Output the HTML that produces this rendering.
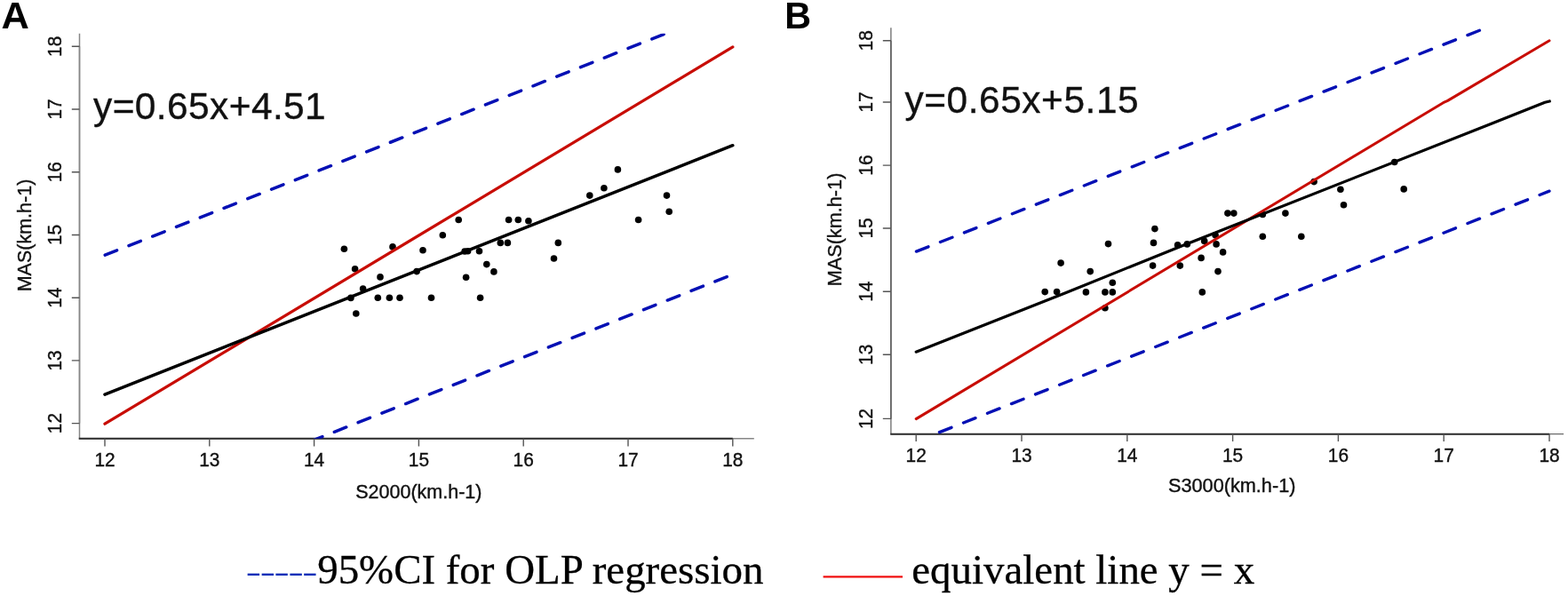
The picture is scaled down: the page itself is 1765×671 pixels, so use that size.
<!DOCTYPE html>
<html lang="en">
<head>
<meta charset="utf-8">
<title>OLP regression: MAS vs S2000 / S3000</title>
<style>
html,body{margin:0;padding:0;background:#fff;}
body{width:1765px;height:671px;overflow:hidden;}
svg{display:block;}
text{white-space:pre;}
</style>
</head>
<body>
<svg width="1765" height="671" viewBox="0 0 1765 671">
<rect width="1765" height="671" fill="#fff"/>
<clipPath id="clipA"><rect x="89.5" y="37.7" width="759.3" height="456.0"/></clipPath>
<path d="M89.5 37.7V493.7H848.8" fill="none" stroke="#868686" stroke-width="1.5"/>
<path d="M88.75 493.7H824.8" fill="none" stroke="#2e2e2e" stroke-width="1.9"/>
<path d="M89.5 476.6V52.3" fill="none" stroke="#868686" stroke-width="1.5"/>
<path d="M118.0 493.7V502.4M235.8 493.7V502.4M353.6 493.7V502.4M471.4 493.7V502.4M589.2 493.7V502.4M707.0 493.7V502.4M824.8 493.7V502.4" fill="none" stroke="#555" stroke-width="1.4"/>
<path d="M89.5 476.6H80.8M89.5 405.9H80.8M89.5 335.2H80.8M89.5 264.5H80.8M89.5 193.7H80.8M89.5 123.0H80.8M89.5 52.3H80.8" fill="none" stroke="#555" stroke-width="1.4"/>
<g font-family='"Liberation Sans", Arial, Helvetica, sans-serif' font-size="22.2" fill="#111" stroke="#111" stroke-width="0.4" text-anchor="middle">
<text transform="translate(118.0 524.8) scale(0.94 1)">12</text>
<text transform="translate(235.8 524.8) scale(0.94 1)">13</text>
<text transform="translate(353.6 524.8) scale(0.94 1)">14</text>
<text transform="translate(471.4 524.8) scale(0.94 1)">15</text>
<text transform="translate(589.2 524.8) scale(0.94 1)">16</text>
<text transform="translate(707.0 524.8) scale(0.94 1)">17</text>
<text transform="translate(824.8 524.8) scale(0.94 1)">18</text>
<text transform="translate(69.0 476.6) rotate(-90) scale(0.94 1)">12</text>
<text transform="translate(69.0 405.9) rotate(-90) scale(0.94 1)">13</text>
<text transform="translate(69.0 335.2) rotate(-90) scale(0.94 1)">14</text>
<text transform="translate(69.0 264.5) rotate(-90) scale(0.94 1)">15</text>
<text transform="translate(69.0 193.7) rotate(-90) scale(0.94 1)">16</text>
<text transform="translate(69.0 123.0) rotate(-90) scale(0.94 1)">17</text>
<text transform="translate(69.0 52.3) rotate(-90) scale(0.94 1)">18</text>
</g>
<g font-family='"Liberation Sans", Arial, Helvetica, sans-serif' font-size="21.5" fill="#111" stroke="#111" stroke-width="0.4" text-anchor="middle">
<text transform="translate(471.3 560.9) scale(1.0 1)">S2000(km.h-1)</text>
<text transform="translate(35.1 265.0) rotate(-90) scale(1.0 1)">MAS(km.h-1)</text>
</g>
<g fill="#000">
<circle cx="387.4" cy="280.3" r="3.8"/>
<circle cx="399.6" cy="302.7" r="3.8"/>
<circle cx="394.9" cy="335.4" r="3.8"/>
<circle cx="400.8" cy="353.0" r="3.8"/>
<circle cx="408.6" cy="325.0" r="3.8"/>
<circle cx="428.0" cy="311.9" r="3.8"/>
<circle cx="425.3" cy="335.2" r="3.8"/>
<circle cx="438.4" cy="335.2" r="3.8"/>
<circle cx="450.0" cy="335.2" r="3.8"/>
<circle cx="442.0" cy="277.9" r="3.8"/>
<circle cx="469.1" cy="305.6" r="3.8"/>
<circle cx="476.0" cy="281.8" r="3.8"/>
<circle cx="485.5" cy="335.2" r="3.8"/>
<circle cx="498.3" cy="264.8" r="3.8"/>
<circle cx="516.2" cy="247.5" r="3.8"/>
<circle cx="523.1" cy="283.0" r="3.8"/>
<circle cx="526.6" cy="282.7" r="3.8"/>
<circle cx="524.6" cy="312.2" r="3.8"/>
<circle cx="539.5" cy="282.7" r="3.8"/>
<circle cx="540.6" cy="335.2" r="3.8"/>
<circle cx="547.8" cy="297.6" r="3.8"/>
<circle cx="555.9" cy="305.9" r="3.8"/>
<circle cx="563.3" cy="273.4" r="3.8"/>
<circle cx="571.4" cy="273.4" r="3.8"/>
<circle cx="572.6" cy="247.5" r="3.8"/>
<circle cx="583.3" cy="247.5" r="3.8"/>
<circle cx="594.9" cy="248.7" r="3.8"/>
<circle cx="628.3" cy="273.4" r="3.8"/>
<circle cx="623.5" cy="291.0" r="3.8"/>
<circle cx="663.8" cy="220.1" r="3.8"/>
<circle cx="679.9" cy="211.7" r="3.8"/>
<circle cx="695.4" cy="190.9" r="3.8"/>
<circle cx="718.6" cy="247.5" r="3.8"/>
<circle cx="750.5" cy="220.1" r="3.8"/>
<circle cx="753.2" cy="238.3" r="3.8"/>
</g>
<g clip-path="url(#clipA)" fill="none" stroke-linecap="round">
<path d="M118.00 287.30L824.80 7.90" stroke="#0510b4" stroke-width="3.5" stroke-dasharray="14.39 14.39" stroke-dashoffset="28.54"/>
<path d="M118.00 588.40L824.80 309.00" stroke="#0510b4" stroke-width="3.5" stroke-dasharray="14.40 14.40" stroke-dashoffset="10.22"/>
</g>
<path d="M118.0 477.2L824.8 52.9" stroke="#c80d06" stroke-width="3.3" stroke-linecap="round" stroke-linejoin="round" fill="none"/>
<path d="M118.0 444.1L824.8 163.7" stroke="#000" stroke-width="3.5" stroke-linecap="round" stroke-linejoin="round" fill="none"/>
<text transform="translate(105.0 134.2) scale(1.0 1)" font-family='"Liberation Sans", Arial, Helvetica, sans-serif' font-size="42.5" letter-spacing="0.38" fill="#111" stroke="#111" stroke-width="0.35">y=0.65x+4.51</text>
<text transform="translate(1.5 31.8) scale(1.01 1)" font-family='"Liberation Sans", Arial, Helvetica, sans-serif' font-weight="bold" font-size="43.0" fill="#000">A</text>
<clipPath id="clipB"><rect x="1002.9" y="31.3" width="757.1999999999999" height="457.4"/></clipPath>
<path d="M1002.9 31.3V488.7H1760.1" fill="none" stroke="#6a6a6a" stroke-width="1.3"/>
<path d="M1002.25 488.7H1744.0" fill="none" stroke="#2e2e2e" stroke-width="1.9"/>
<path d="M1002.9 471.7V45.8" fill="none" stroke="#555" stroke-width="1.3"/>
<path d="M1031.2 488.7V497.1M1150.0 488.7V497.1M1268.8 488.7V497.1M1387.6 488.7V497.1M1506.4 488.7V497.1M1625.2 488.7V497.1M1744.0 488.7V497.1" fill="none" stroke="#555" stroke-width="1.4"/>
<path d="M1002.9 471.4H993.8M1002.9 399.3H993.8M1002.9 328.2H993.8M1002.9 257.0H993.8M1002.9 186.1H993.8M1002.9 115.0H993.8M1002.9 45.7H993.8" fill="none" stroke="#555" stroke-width="1.4"/>
<g font-family='"Liberation Sans", Arial, Helvetica, sans-serif' font-size="22.2" fill="#111" stroke="#111" stroke-width="0.4" text-anchor="middle">
<text transform="translate(1031.2 520.0) scale(0.94 1)">12</text>
<text transform="translate(1150.0 520.0) scale(0.94 1)">13</text>
<text transform="translate(1268.8 520.0) scale(0.94 1)">14</text>
<text transform="translate(1387.6 520.0) scale(0.94 1)">15</text>
<text transform="translate(1506.4 520.0) scale(0.94 1)">16</text>
<text transform="translate(1625.2 520.0) scale(0.94 1)">17</text>
<text transform="translate(1744.0 520.0) scale(0.94 1)">18</text>
<text transform="translate(982.0 471.4) rotate(-90) scale(0.94 1)">12</text>
<text transform="translate(982.0 399.3) rotate(-90) scale(0.94 1)">13</text>
<text transform="translate(982.0 328.2) rotate(-90) scale(0.94 1)">14</text>
<text transform="translate(982.0 257.0) rotate(-90) scale(0.94 1)">15</text>
<text transform="translate(982.0 186.1) rotate(-90) scale(0.94 1)">16</text>
<text transform="translate(982.0 115.0) rotate(-90) scale(0.94 1)">17</text>
<text transform="translate(982.0 45.7) rotate(-90) scale(0.94 1)">18</text>
</g>
<g font-family='"Liberation Sans", Arial, Helvetica, sans-serif' font-size="21.7" fill="#111" stroke="#111" stroke-width="0.4" text-anchor="middle">
<text transform="translate(1386.7 553.8) scale(1.0 1)">S3000(km.h-1)</text>
<text transform="translate(947.0 258.5) rotate(-90) scale(1.0 1)">MAS(km.h-1)</text>
</g>
<g fill="#000">
<circle cx="1176.2" cy="328.6" r="3.8"/>
<circle cx="1189.6" cy="328.6" r="3.8"/>
<circle cx="1194.1" cy="296.1" r="3.8"/>
<circle cx="1222.4" cy="328.9" r="3.8"/>
<circle cx="1227.2" cy="305.6" r="3.8"/>
<circle cx="1243.9" cy="328.9" r="3.8"/>
<circle cx="1252.3" cy="328.9" r="3.8"/>
<circle cx="1252.3" cy="318.2" r="3.8"/>
<circle cx="1243.9" cy="346.8" r="3.8"/>
<circle cx="1247.5" cy="274.6" r="3.8"/>
<circle cx="1299.9" cy="257.6" r="3.8"/>
<circle cx="1298.5" cy="273.4" r="3.8"/>
<circle cx="1297.6" cy="299.1" r="3.8"/>
<circle cx="1325.6" cy="275.8" r="3.8"/>
<circle cx="1336.3" cy="274.9" r="3.8"/>
<circle cx="1328.3" cy="299.1" r="3.8"/>
<circle cx="1355.7" cy="271.4" r="3.8"/>
<circle cx="1352.1" cy="290.4" r="3.8"/>
<circle cx="1353.3" cy="328.9" r="3.8"/>
<circle cx="1369.1" cy="274.9" r="3.8"/>
<circle cx="1368.1" cy="264.8" r="3.8"/>
<circle cx="1371.0" cy="305.6" r="3.8"/>
<circle cx="1376.6" cy="283.9" r="3.8"/>
<circle cx="1381.9" cy="240.1" r="3.8"/>
<circle cx="1388.8" cy="240.1" r="3.8"/>
<circle cx="1421.3" cy="241.5" r="3.8"/>
<circle cx="1421.3" cy="266.3" r="3.8"/>
<circle cx="1446.9" cy="240.1" r="3.8"/>
<circle cx="1464.8" cy="266.3" r="3.8"/>
<circle cx="1479.1" cy="204.6" r="3.8"/>
<circle cx="1508.9" cy="213.2" r="3.8"/>
<circle cx="1512.5" cy="230.8" r="3.8"/>
<circle cx="1569.7" cy="182.5" r="3.8"/>
<circle cx="1580.2" cy="212.9" r="3.8"/>
</g>
<g clip-path="url(#clipB)" fill="none" stroke-linecap="round">
<path d="M1031.20 283.20L1744.00 3.43" stroke="#0510b4" stroke-width="3.4" stroke-dasharray="14.49 14.49" stroke-dashoffset="28.68"/>
<path d="M1031.20 497.06L1744.00 215.15" stroke="#0510b4" stroke-width="3.4" stroke-dasharray="14.53 14.53" stroke-dashoffset="0.80"/>
</g>
<path d="M1031.2 471.6L1624.5 115.7L1629.5 113.4L1744.0 45.7" stroke="#c80d06" stroke-width="3.0" stroke-linecap="round" stroke-linejoin="round" fill="none"/>
<path d="M1031.2 396.2L1200.0 329.4L1330.0 277.0L1680.0 138.8L1739.0 115.2L1744.3 114.0" stroke="#000" stroke-width="3.2" stroke-linecap="round" stroke-linejoin="round" fill="none"/>
<text transform="translate(1018.4 127.0) scale(1.0 1)" font-family='"Liberation Sans", Arial, Helvetica, sans-serif' font-size="42.4" letter-spacing="0.58" fill="#111" stroke="#111" stroke-width="0.35">y=0.65x+5.15</text>
<text transform="translate(883.3 31.8) scale(0.96 1)" font-family='"Liberation Sans", Arial, Helvetica, sans-serif' font-weight="bold" font-size="43.0" fill="#000">B</text>
<g font-family='"Liberation Serif", "Times New Roman", Times, serif' font-size="46.9" stroke-width="0.3">
<text transform="translate(276.8 653.8) scale(1.10 0.66)" letter-spacing="-1.17" fill="#0a2fb8">-----</text>
<text x="357.2" y="657" fill="#000" stroke="#000">95%CI for OLP regression</text>
<text x="1026.3" y="657" fill="#000" stroke="#000">equivalent line y = x</text>
</g>
<path d="M926.6 649.4H1016" stroke="#f01010" stroke-width="2.2" fill="none"/>
</svg>
</body>
</html>
